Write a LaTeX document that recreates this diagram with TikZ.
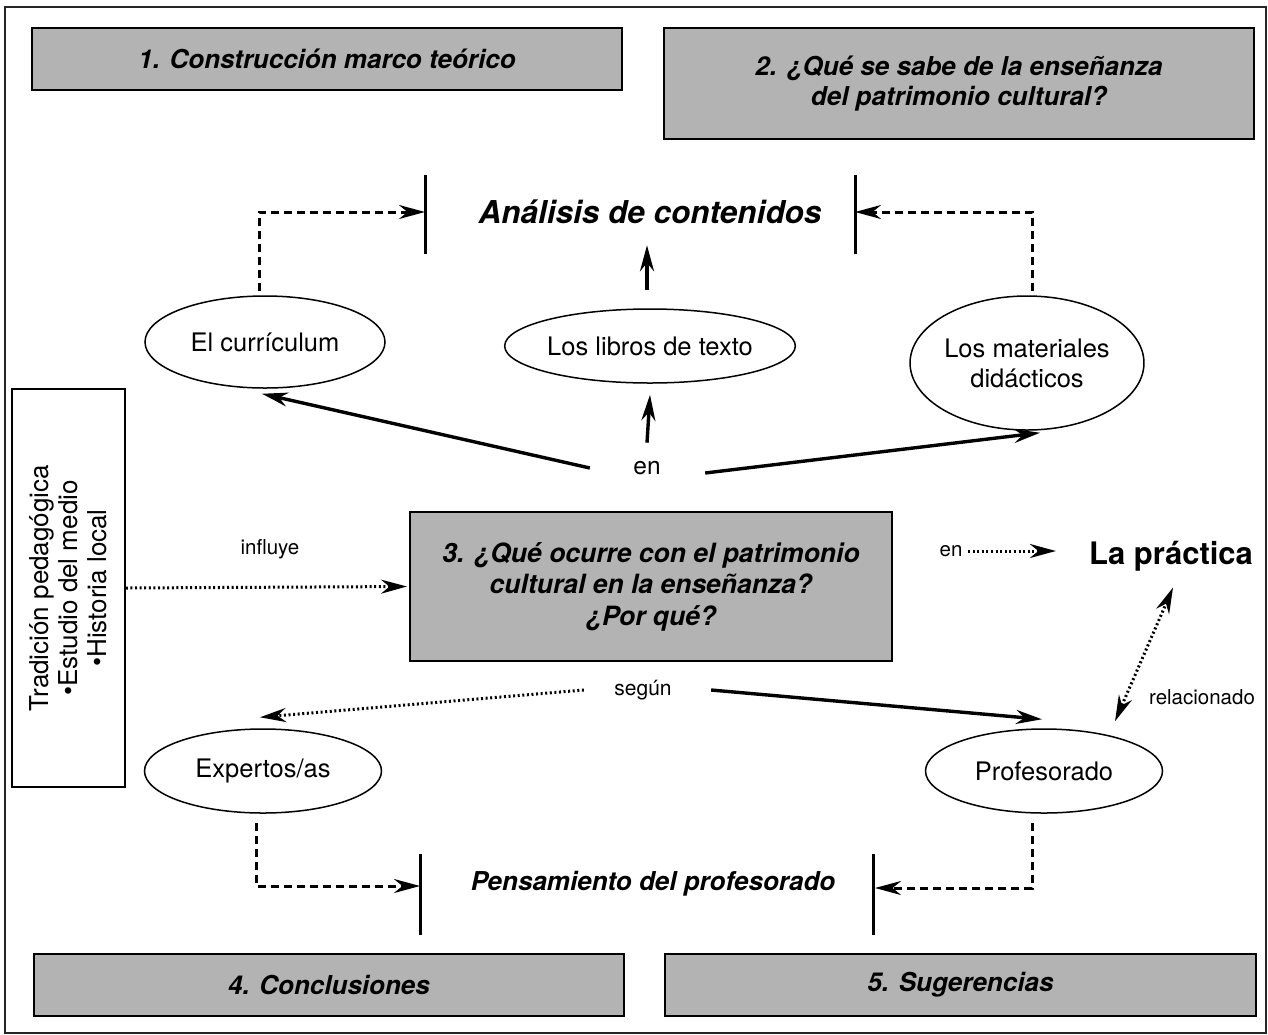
\documentclass[tikz,border=0pt]{standalone}
\usepackage{fontspec}
\setmainfont{TeX Gyre Heros}
\usetikzlibrary{shapes.geometric,arrows.meta}
\definecolor{boxgray}{HTML}{B3B3B3}
\begin{document}
\begin{tikzpicture}[x=1pt,y=-1pt,
  graybox/.style={draw=black, line width=2pt, fill=boxgray, inner sep=0pt, align=center,
    font=\fontsize{26}{30}\selectfont\bfseries\itshape},
  oval/.style={draw, ellipse, line width=1.5pt, inner sep=0pt, align=center,
    font=\fontsize{25.5}{30}\selectfont},
  lbl/.style={font=\fontsize{20.5}{24}\selectfont},
  midlbl/.style={font=\fontsize{24.5}{28}\selectfont},
  bigtitle/.style={font=\fontsize{26}{30}\selectfont\bfseries\itshape},
  tip/.style={-{Stealth[length=26pt,width=14pt]}},
  arr/.style={tip, line width=3.4pt},
  dasharr/.style={tip, line width=3pt, dash pattern=on 8pt off 5pt},
  dotarr/.style={tip, line width=3pt, dash pattern=on 2pt off 2.6pt},
  bar/.style={line width=3pt}
]
\useasboundingbox (0,0) rectangle (1268,1034);
% outer frame
\draw[line width=1.6pt, black!85] (5,7) rectangle (1266,1033);

% gray boxes
\node[graybox, minimum width=590pt, minimum height=62pt] (b1) at (327,59) {1. Construcción marco teórico};
\node[graybox, minimum width=590pt, minimum height=111pt] (b2) at (959,83.5) {2. ¿Qué se sabe de la enseñanza\\del patrimonio cultural?};
\node[graybox, minimum width=482pt, minimum height=149pt, font=\fontsize{26.5}{31.5}\selectfont\bfseries\itshape] (b3) at (651,586.5) {3. ¿Qué ocurre con el patrimonio\\cultural en la enseñanza?\\¿Por qué?};
\node[graybox, minimum width=590pt, minimum height=62pt] (b4) at (329,985) {4. Conclusiones};
\node[graybox, minimum width=591pt, minimum height=62pt] (b5) at (960.5,985) {5. Sugerencias};

% titles
\node[font=\fontsize{31.5}{36}\selectfont\bfseries\itshape] (ana) at (650,212) {Análisis de contenidos};
\node[bigtitle] (pen) at (653,884) {Pensamiento del profesorado};
\node[font=\fontsize{31}{36}\selectfont\bfseries] (prac) at (1171,556) {La práctica};

% bars
\coordinate (barLt) at (425,175); \coordinate (barLb) at (425,254); \coordinate (barL) at (425,212);
\coordinate (barRt) at (855,175); \coordinate (barRb) at (855,254); \coordinate (barR) at (855,212);
\coordinate (barBLt) at (420,854); \coordinate (barBLb) at (420,935); \coordinate (barBL) at (420,886);
\coordinate (barBRt) at (873,854); \coordinate (barBRb) at (873,935); \coordinate (barBR) at (873,888);
\draw[bar] (barLt) -- (barLb);
\draw[bar] (barRt) -- (barRb);
\draw[bar] (barBLt) -- (barBLb);
\draw[bar] (barBRt) -- (barBRb);

% ellipses
\node[oval, minimum width=240pt, minimum height=92pt] (curr) at (265,342) {El currículum};
\node[oval, minimum width=290pt, minimum height=74pt] (lib) at (650,346) {Los libros de texto};
\node[oval, minimum width=212pt, minimum height=134pt] (mat) at (1027,363) {Los materiales\\didácticos};
\node[oval, minimum width=237pt, minimum height=84pt] (exp) at (263,771) {Expertos/as};
\node[oval, minimum width=237pt, minimum height=84pt] (prof) at (1044,771) {Profesorado};

% left box
\node[draw, line width=1.6pt, minimum width=113pt, minimum height=398pt, inner sep=0pt] (lb) at (68.5,588) {};
\node[rotate=90, align=center, font=\fontsize{26}{29}\selectfont] (lbt) at (lb.center) {Tradición pedagógica\\•Estudio del medio\\•Historia local};

% labels
\node[midlbl] (en1) at (647,468) {en};
\node[lbl] (infl) at (270,549) {influye};
\node[lbl] (en2) at (951,551) {en};
\node[font=\fontsize{21}{24}\selectfont] (seg) at (643,690) {según};
\node[lbl] (rel) at (1202,697) {relacionado};

% top dashed connectors
\draw[dasharr] ([xshift=-6pt,yshift=4pt]curr.north) |- (barL);
\draw[dasharr] ([xshift=5pt,yshift=4pt]mat.north) |- (barR);
% libros -> analisis
\draw[arr] ([xshift=-3pt,yshift=18pt]lib.north) -- ([xshift=-3pt,yshift=63pt]lib.north);
% en -> ellipses
\draw[arr] ([yshift=15pt]en1.north) -- ([yshift=-11pt]lib.south);
\draw[arr] ([xshift=-40pt]en1.west) -- ([xshift=-3pt,yshift=-5pt]curr.south);
\draw[arr] ([xshift=41pt,yshift=-5pt]en1.east) -- ([xshift=13pt,yshift=-2pt]mat.south);

% influye
\draw[dotarr] (lb.east) -- ([xshift=-2pt]b3.west);
% en -> La practica
\draw[dotarr] ([xshift=2pt]en2.east) -- ++(88,0);
% relacionado
\draw[dotarr, {Stealth[length=26pt,width=14pt]}-{Stealth[length=26pt,width=14pt]}] ([xshift=2pt,yshift=-13pt]prac.south) -- ([xshift=71pt,yshift=7pt]prof.north);
% segun
\draw[dotarr] ([xshift=-27pt]seg.west) -- ([xshift=-3pt,yshift=11pt]exp.north);
\draw[arr] ([xshift=36pt]seg.east) -- ([xshift=-2pt,yshift=9pt]prof.north);

% bottom dashed connectors
\draw[dasharr] ([xshift=-7pt,yshift=-9pt]exp.south) |- (barBL);
\draw[dasharr] ([xshift=-12pt,yshift=-9pt]prof.south) |- ([xshift=2pt]barBR);
\end{tikzpicture}
\end{document}
